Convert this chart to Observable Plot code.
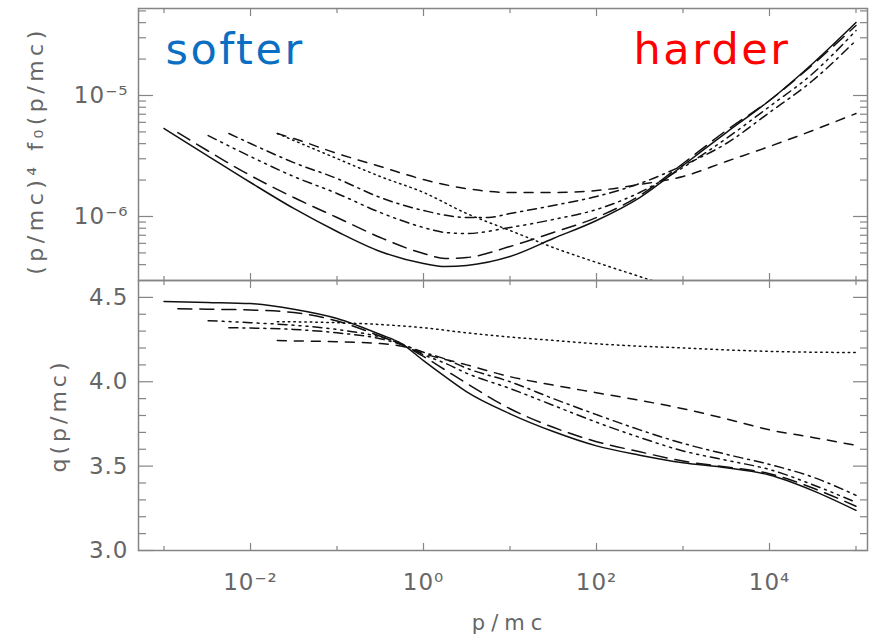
<!DOCTYPE html>
<html>
<head>
<meta charset="utf-8">
<script src="https://cdn.jsdelivr.net/npm/d3@7"></script>
<script src="https://cdn.jsdelivr.net/npm/@observablehq/plot@0.6"></script>
<style>
  body { margin: 0; background: #fff; }
  #chart svg { display: block; }
</style>
</head>
<body>
<div id="chart"></div>
<script>
// ---------------- data ----------------
const seriesNames = ["solid", "longdash", "dashdotdotdot", "dashdot", "dashed", "dotted"];

// Top panel: x = log10(p/mc), y = (p/mc)^4 f0(p/mc)
const top_logp_solid = [-3,-2.5,-2,-1.5,-1,-0.5,0,0.25,0.5,1,1.5,2,2.5,3,3.5,4,4.5,5];
const top_f_solid = [5.34e-6,3.19e-6,1.91e-6,1.165e-6,7.52e-7,5.14e-7,4.09e-7,3.86e-7,3.94e-7,4.67e-7,6.58e-7,9.27e-7,1.435e-6,2.64e-6,4.94e-6,9.09e-6,1.84e-5,4.01e-5];

const top_logp_longdash = [-2.84,-2.5,-2,-1.5,-1,-0.5,0,0.25,0.5,1,1.5,2,2.5,3,3.5,4,4.5,5];
const top_f_longdash = [4.94e-6,3.51e-6,2.18e-6,1.435e-6,9.81e-7,6.71e-7,4.94e-7,4.50e-7,4.58e-7,5.65e-7,7.38e-7,9.81e-7,1.49e-6,2.74e-6,5.14e-6,9.09e-6,1.80e-5,3.79e-5];

const top_logp_dashdotdotdot = [-2.49,-2,-1.5,-1,-0.5,0,0.25,0.5,1,1.5,2,2.5,3,3.5,4,4.5,5];
const top_f_dashdotdotdot = [4.67e-6,3.13e-6,2.14e-6,1.55e-6,1.079e-6,8.11e-7,7.38e-7,7.24e-7,8.11e-7,9.45e-7,1.142e-6,1.58e-6,2.54e-6,4.41e-6,8.11e-6,1.52e-5,3.44e-5];

const top_logp_dashdot = [-2.25,-2,-1.5,-1,-0.5,0,0.5,0.75,1,1.5,2,2.5,3,3.5,4,4.5,5];
const top_f_dashdot = [4.85e-6,4.01e-6,2.79e-6,2.06e-6,1.435e-6,1.121e-6,9.81e-7,9.81e-7,1.058e-6,1.233e-6,1.464e-6,1.874e-6,2.64e-6,4.01e-6,7.24e-6,1.33e-5,2.85e-5];

const top_logp_dashed = [-1.69,-1.5,-1,-0.5,0,0.5,1,1.5,2,2.5,3,3.5,4,4.5,5];
const top_f_dashed = [4.85e-6,4.41e-6,3.32e-6,2.59e-6,2.02e-6,1.70e-6,1.58e-6,1.58e-6,1.64e-6,1.84e-6,2.14e-6,2.85e-6,3.79e-6,5.14e-6,7.10e-6];

const top_logp_dotted = [-1.69,-1.5,-1,-0.5,0,0.5,1,1.5,2,2.5,2.75];
const top_f_dotted = [4.85e-6,4.25e-6,3.01e-6,2.14e-6,1.58e-6,1.058e-6,7.66e-7,5.54e-7,4.17e-7,3.19e-7,2.79e-7];

// Bottom panel: x = log10(p/mc), y = q(p/mc)
const bot_logp_solid = [-3,-2.5,-2,-1.5,-1,-0.5,-0.25,0,0.25,0.5,1,1.5,2,2.5,3,3.5,4,4.5,5];
const bot_q_solid = [4.476,4.47,4.463,4.43,4.375,4.28,4.225,4.125,4.03,3.94,3.81,3.705,3.62,3.565,3.52,3.49,3.447,3.355,3.238];

const bot_logp_longdash = [-2.84,-2.5,-2,-1.5,-1,-0.5,-0.25,0,0.25,0.5,1,1.5,2,2.5,3,3.5,4,4.5,5];
const bot_q_longdash = [4.433,4.43,4.425,4.41,4.36,4.27,4.22,4.15,4.07,3.99,3.84,3.73,3.645,3.585,3.53,3.495,3.455,3.37,3.262];

const bot_logp_dashdotdotdot = [-2.49,-2,-1.5,-1,-0.5,-0.25,0,0.25,0.5,1,1.5,2,2.5,3,3.5,4,4.5,5];
const bot_q_dashdotdotdot = [4.362,4.35,4.335,4.31,4.265,4.225,4.16,4.11,4.05,3.96,3.86,3.76,3.67,3.59,3.535,3.48,3.39,3.285];

const bot_logp_dashdot = [-2.25,-2,-1.5,-1,-0.5,-0.25,0,0.25,0.5,1,1.5,2,2.5,3,3.5,4,4.5,5];
const bot_q_dashdot = [4.32,4.318,4.31,4.29,4.255,4.22,4.175,4.135,4.08,4.0,3.9,3.805,3.715,3.635,3.57,3.51,3.435,3.327];

const bot_logp_dashed = [-1.69,-1.5,-1,-0.5,-0.25,0,0.5,1,1.5,2,2.5,3,3.5,4,4.5,5];
const bot_q_dashed = [4.244,4.242,4.237,4.226,4.21,4.167,4.10,4.03,3.98,3.935,3.89,3.84,3.78,3.715,3.67,3.623];

const bot_logp_dotted = [-1.69,-1,0,0.5,1,1.5,2,3,4,5];
const bot_q_dotted = [4.356,4.35,4.32,4.29,4.265,4.245,4.225,4.2,4.18,4.173];

// Ticks and labels
const xMajorTicks = [1e-2, 1, 1e2, 1e4];
const xMinorTicks = [1e-3, 1e-1, 1e1, 1e3, 1e5];
const xTickLabels = ["10⁻²", "10⁰", "10²", "10⁴"];

const topYMajorTicks = [1e-6, 1e-5];
const topYMinorTicks = [4e-7,5e-7,6e-7,7e-7,8e-7,9e-7,2e-6,3e-6,4e-6,5e-6,6e-6,7e-6,8e-6,9e-6,2e-5,3e-5,4e-5,5e-5];
const topYTickLabels = ["10⁻⁶", "10⁻⁵"];

const botYMajorTicks = [3.0, 3.5, 4.0, 4.5];
const botYMinorTicks = [3.1,3.2,3.3,3.4,3.6,3.7,3.8,3.9,4.1,4.2,4.3,4.4];
const botYTickLabels = ["3.0", "3.5", "4.0", "4.5"];

const topYTitle = "(p/mc)⁴ f₀(p/mc)";
const botYTitle = "q(p/mc)";
const xTitle = "p/mc";
const annotSofter = "softer";
const annotHarder = "harder";

// ---------------- build tables ----------------
const topLogP = {solid: top_logp_solid, longdash: top_logp_longdash, dashdotdotdot: top_logp_dashdotdotdot, dashdot: top_logp_dashdot, dashed: top_logp_dashed, dotted: top_logp_dotted};
const topVal = {solid: top_f_solid, longdash: top_f_longdash, dashdotdotdot: top_f_dashdotdotdot, dashdot: top_f_dashdot, dashed: top_f_dashed, dotted: top_f_dotted};
const botLogP = {solid: bot_logp_solid, longdash: bot_logp_longdash, dashdotdotdot: bot_logp_dashdotdotdot, dashdot: bot_logp_dashdot, dashed: bot_logp_dashed, dotted: bot_logp_dotted};
const botVal = {solid: bot_q_solid, longdash: bot_q_longdash, dashdotdotdot: bot_q_dashdotdotdot, dashdot: bot_q_dashdot, dashed: bot_q_dashed, dotted: bot_q_dotted};

const dashes = {solid: null, longdash: "14,8", dashdotdotdot: "9,5,2,5,2,5,2,5", dashdot: "9,5,2,5", dashed: "9,8", dotted: "1.5,4"};

function table(lp, vals, name) {
  return lp[name].map((e, i) => ({series: name, p: Math.pow(10, e), v: vals[name][i]}));
}

const frameColor = "#858585";
const textColor = "#666";
const W = 879, ML = 138, MR = 12;
const xDomain = [Math.pow(10, -3.295), Math.pow(10, 5.133)];

function lineMarks(lp, vals) {
  return seriesNames.map(name => Plot.line(table(lp, vals, name), {
    x: "p", y: "v", stroke: "#111", strokeWidth: 1.5,
    strokeDasharray: dashes[name], curve: "monotone-x", clip: true
  }));
}

function tickMarks(yMajor, yMinor) {
  const blank = () => "";
  const common = {stroke: frameColor, strokeWidth: 1.2, tickFormat: blank, label: null};
  return [
    Plot.axisX(xMajorTicks, {...common, anchor: "top", tickSize: -7}),
    Plot.axisX(xMinorTicks, {...common, anchor: "top", tickSize: -4}),
    Plot.axisX(xMajorTicks, {...common, anchor: "bottom", tickSize: -7}),
    Plot.axisX(xMinorTicks, {...common, anchor: "bottom", tickSize: -4}),
    Plot.axisY(yMajor, {...common, anchor: "left", tickSize: -15}),
    Plot.axisY(yMinor, {...common, anchor: "left", tickSize: -8}),
    Plot.axisY(yMajor, {...common, anchor: "right", tickSize: -15}),
    Plot.axisY(yMinor, {...common, anchor: "right", tickSize: -8})
  ];
}

const baseStyle = {fontFamily: "'DejaVu Sans', sans-serif", overflow: "visible", color: textColor, background: "transparent"};

// ---------------- top panel ----------------
const topPlot = Plot.plot({
  width: W, height: 280,
  marginLeft: ML, marginRight: MR, marginTop: 8, marginBottom: 0,
  style: baseStyle,
  x: {type: "log", domain: xDomain, label: null},
  y: {type: "log", domain: [Math.pow(10, -6.529), Math.pow(10, -4.281)], label: null},
  marks: [
    ...tickMarks(topYMajorTicks, topYMinorTicks),
    Plot.axisY(topYMajorTicks, {anchor: "left", tickSize: 0, tickPadding: 10, fontSize: 23, label: null,
      tickFormat: d => topYTickLabels[topYMajorTicks.indexOf(d)]}),
    ...lineMarks(topLogP, topVal),
    Plot.frame({stroke: frameColor, strokeWidth: 1.5}),
    Plot.text([topYTitle], {text: d => d, frameAnchor: "left", textAnchor: "middle", lineAnchor: "middle", rotate: -90, dx: 35 - ML, dy: 6, fontSize: 22, fill: textColor}),
    Plot.text([annotSofter], {text: d => d, frameAnchor: "top-left", textAnchor: "start", lineAnchor: "bottom", dx: 27, dy: 55, fontSize: 43, fill: "#0a6fc2"}),
    Plot.text([annotHarder], {text: d => d, frameAnchor: "top-right", textAnchor: "end", lineAnchor: "bottom", dx: -77, dy: 55, fontSize: 43, fill: "#ff0000"})
  ]
});

// ---------------- bottom panel ----------------
const botPlot = Plot.plot({
  width: W, height: 354,
  marginLeft: ML, marginRight: MR, marginTop: 0, marginBottom: 84,
  style: baseStyle,
  x: {type: "log", domain: xDomain, label: null},
  y: {type: "linear", domain: [3.0, 4.6], label: null},
  marks: [
    ...tickMarks(botYMajorTicks, botYMinorTicks),
    Plot.axisY(botYMajorTicks, {anchor: "left", tickSize: 0, tickPadding: 10, fontSize: 23, label: null,
      tickFormat: d => botYTickLabels[botYMajorTicks.indexOf(d)]}),
    Plot.axisX(xMajorTicks, {anchor: "bottom", tickSize: 0, tickPadding: 23, fontSize: 23, label: null,
      tickFormat: d => xTickLabels[xMajorTicks.indexOf(d)]}),
    ...lineMarks(botLogP, botVal),
    Plot.frame({stroke: frameColor, strokeWidth: 1.5}),
    Plot.text([botYTitle], {text: d => d, frameAnchor: "left", textAnchor: "middle", lineAnchor: "middle", rotate: -90, dx: 58 - ML, dy: 0, fontSize: 22, fill: textColor}),
    Plot.text([xTitle], {text: d => d, frameAnchor: "bottom", lineAnchor: "bottom", dx: 7, dy: 79, fontSize: 21, fill: textColor})
  ]
});

const spacing = {};
spacing[topYTitle] = "4.5px";
spacing[botYTitle] = "4px";
spacing[xTitle] = "6px";
spacing[annotSofter] = "2.5px";
spacing[annotHarder] = "2.5px";
for (const svg of [topPlot, botPlot]) {
  d3.select(svg).selectAll("text").each(function () {
    const t = this.textContent;
    if (spacing[t]) this.style.letterSpacing = spacing[t];
    else this.style.letterSpacing = "1px";
  });
}

const chart = document.getElementById("chart");
chart.appendChild(topPlot);
chart.appendChild(botPlot);
</script>
</body>
</html>
